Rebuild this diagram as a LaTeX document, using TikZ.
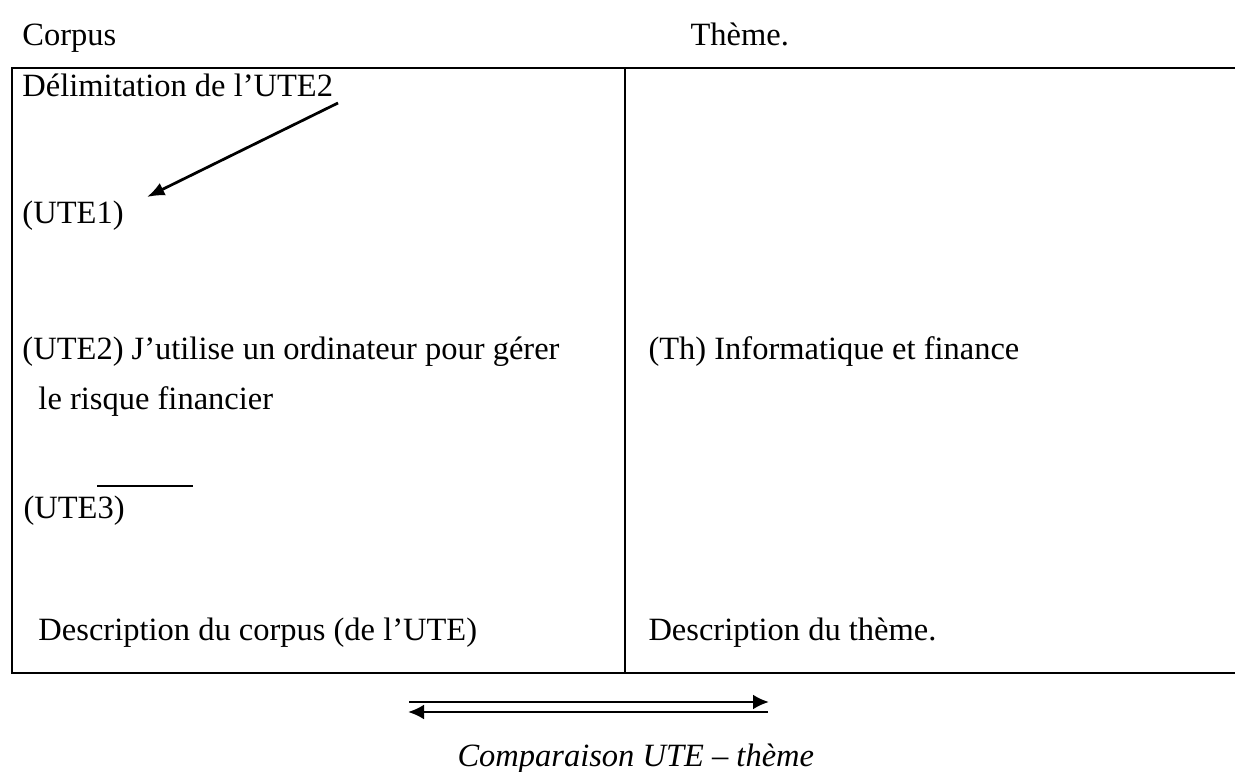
\documentclass[tikz,border=0pt]{standalone}
\usepackage{fontspec}
\setmainfont{Liberation Serif}
\usepackage{tikz}
\usetikzlibrary{arrows.meta}

\begin{document}
\begin{tikzpicture}[>={Latex[length=7pt,width=5.5pt]}, x=0.4pt, y=-0.4pt, every node/.style={anchor=base west, inner sep=0pt, font=\fontsize{13}{15}\selectfont}]
			\useasboundingbox (0,0) rectangle (1235,772);
			% headings
			\node (corpus) at (22,46) {Corpus};
			\node (theme) at (690,46) {Thème.};
			% table
			\draw[line width=0.85pt] (1235,68) -- (12,68) -- (12,673) -- (1235,673);
			\draw[line width=0.85pt] (625,68) -- (625,673);
			\node (delim) at (22,97) {Délimitation de l’UTE2};
			\node (ute1) at (22,224) {(UTE1)};
			\node (ute2) at (22,360) {(UTE2) J’utilise un ordinateur pour gérer};
			\node (ute2b) at (38,410) {le risque financier};
			\node (ute3) at (23,519) {(UTE3)};
			\node (desccorp) at (38,641) {Description du corpus (de l’UTE)};
			\node (th) at (648,360) {(Th) Informatique et finance};
			\node (desctheme) at (648,641) {Description du thème.};
			\coordinate (a1) at (338,103);
			\coordinate (a2) at (147,197);
			\draw[->, line width=1.1pt] (a1) -- (a2);
			\coordinate (b1) at (97,486);
			\coordinate (b2) at (193,486);
			\draw[line width=0.85pt] (b1) -- (b2);
			% comparison arrows
			\coordinate (c1) at (409,702);
			\coordinate (c2) at (769,702);
			\coordinate (d1) at (408,712);
			\coordinate (d2) at (768,712);
			\draw[-{Latex[length=6.4pt,width=6pt]}, line width=1.1pt] (c1) -- (c2);
			\draw[-{Latex[length=6.4pt,width=6pt]}, line width=1.1pt] (d2) -- (d1);
			\node (comp) at (457,766) {\itshape Comparaison UTE – thème};
		\end{tikzpicture}
\end{document}
